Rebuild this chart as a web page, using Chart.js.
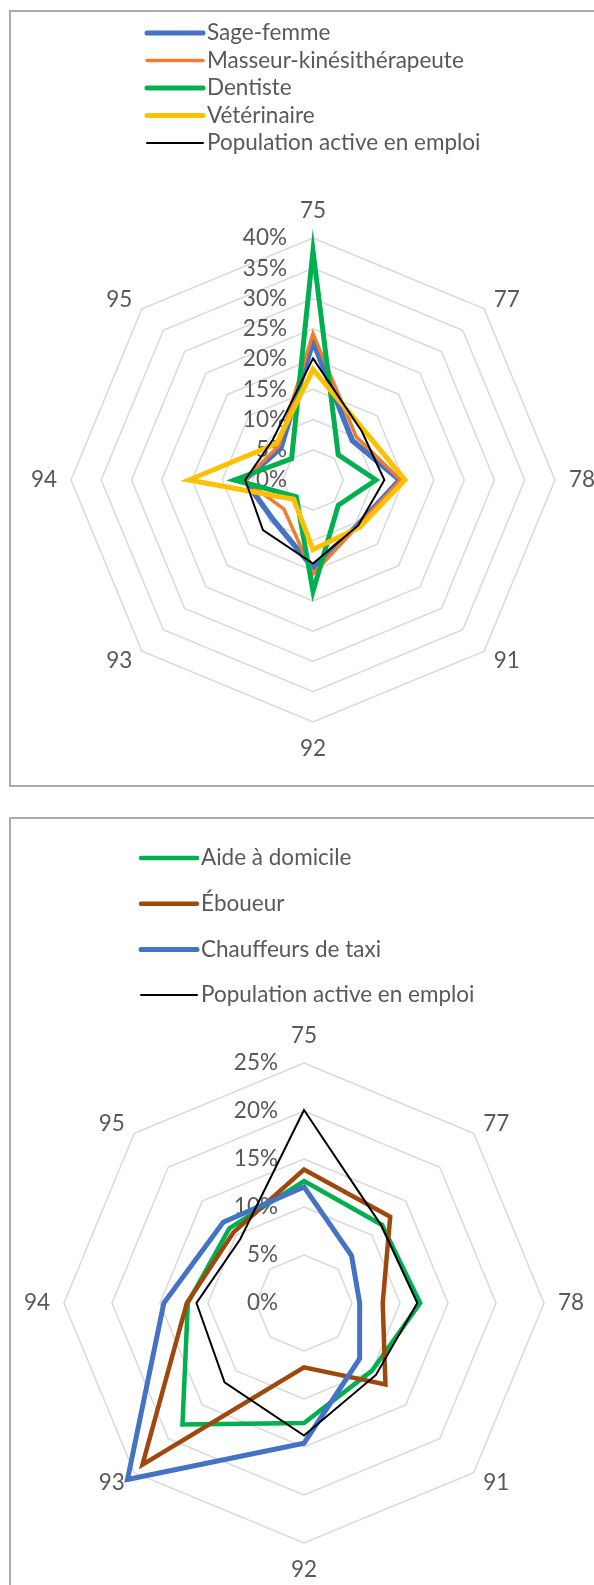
<!DOCTYPE html>
<html>
<head>
<meta charset="utf-8">
<script src="https://cdn.jsdelivr.net/npm/chart.js@4.4.1/dist/chart.umd.min.js"></script>
<style>
  html, body { margin: 0; padding: 0; background: #fff; overflow: hidden; width: 594px; height: 1585px; }
  .box { position: absolute; border: 2px solid #ababab; box-sizing: border-box; }
  canvas { position: absolute; left: 0; }
</style>
</head>
<body>
<div class="box" style="left:9px;top:10px;width:620px;height:777px"></div>
<div class="box" style="left:9px;top:817px;width:620px;height:800px"></div>
<canvas id="radarSante" width="700" height="800" style="top:0"></canvas>
<canvas id="radarServices" width="700" height="785" style="top:800px"></canvas>
<script>
// départements d'Île-de-France (axes du radar)
const departements = ['75', '77', '78', '91', '92', '93', '94', '95'];

// graphique du haut (% des effectifs par département)
const sageFemme   = [22.9, 9.2, 14.3, 10.5, 14.5, 9.3, 11.3, 7.5];
const masseurKine = [24.2, 10.1, 14.5, 10.6, 15.5, 6.8, 11.3, 8.0];
const dentiste    = [37.9, 5.9, 10.4, 5.9, 18.4, 3.9, 13.0, 5.0];
const veterinaire = [18.3, 11.8, 15.2, 11.0, 11.5, 4.5, 20.5, 8.5];

// graphique du bas
const aideDomicile = [12.7, 11.5, 12.1, 10.0, 12.5, 17.9, 12.1, 11.0];
const eboueur      = [13.9, 12.7, 8.2, 12.0, 6.7, 23.8, 12.2, 10.4];
const taxi         = [12.1, 7.0, 5.8, 8.2, 14.6, 26.0, 14.6, 11.9];

// référence commune
const populationActive = [20.1, 11.4, 11.8, 10.6, 13.8, 11.7, 11.2, 9.4];

// graduations
const ticksHaut = { max: 40, step: 5 };
const ticksBas  = { max: 25, step: 5 };

const FONT = 'Lato';
const TAILLE = 22.5;
const GRIS = '#595959';
Chart.defaults.font.family = FONT;

// ticks à gauche de l'axe, étiquettes des axes et légende en liste, façon Excel
const excelLook = {
  id: 'excelLook',
  beforeDatasetsDraw(chart) {
    const r = chart.scales.r;
    const ctx = chart.ctx;
    ctx.save();
    ctx.font = TAILLE + 'px ' + FONT;
    ctx.fillStyle = GRIS;
    ctx.textBaseline = 'middle';

    ctx.textAlign = 'right';
    r.ticks.forEach(t => {
      const d = r.getDistanceFromCenterForValue(t.value);
      ctx.fillText(t.value + '%', r.xCenter - 26, r.yCenter - d);
    });

    chart.data.labels.forEach((lab, i) => {
      const deg = Math.round(r.getIndexAngle(i) * 180 / Math.PI) % 360;
      let dist, align;
      if (deg === 0 || deg === 180) {
        dist = r.drawingArea + 27; align = 'center';
      } else if (deg === 90 || deg === 270) {
        dist = r.drawingArea + 14; align = deg === 90 ? 'left' : 'right';
      } else {
        dist = r.drawingArea + 13.5; align = deg < 180 ? 'left' : 'right';
      }
      const p = r.getPointPosition(i, dist);
      ctx.textAlign = align;
      ctx.fillText(lab, p.x, p.y);
    });
    ctx.restore();
  },
  afterDraw(chart, args, opts) {
    const ctx = chart.ctx;
    ctx.save();
    ctx.font = TAILLE + 'px ' + FONT;
    ctx.textBaseline = 'middle';
    ctx.textAlign = 'left';
    chart.data.datasets.forEach((ds, i) => {
      const y = opts.top + i * opts.step;
      ctx.strokeStyle = ds.borderColor;
      ctx.lineWidth = Math.min(ds.borderWidth, 5);
      ctx.lineCap = 'round';
      ctx.beginPath();
      ctx.moveTo(opts.x1, y);
      ctx.lineTo(opts.x2, y);
      ctx.stroke();
      ctx.fillStyle = GRIS;
      ctx.fillText(ds.label, opts.x2 + 4, y);
    });
    ctx.restore();
  }
};

function serie(label, data, color, width, order) {
  return {
    label: label,
    data: data,
    borderColor: color,
    backgroundColor: color,
    borderWidth: width,
    pointRadius: 0,
    pointHoverRadius: 0,
    fill: false,
    clip: false,
    order: order
  };
}

function radarConfig(datasets, ticks, padding, legend) {
  return {
    type: 'radar',
    data: { labels: departements, datasets: datasets },
    options: {
      responsive: false,
      animation: false,
      devicePixelRatio: 1,
      layout: { padding: padding },
      plugins: {
        legend: { display: false },
        tooltip: { enabled: false },
        excelLook: legend
      },
      scales: {
        r: {
          min: 0,
          max: ticks.max,
          ticks: { stepSize: ticks.step, display: false },
          grid: { color: '#d9d9d9', lineWidth: 1.5 },
          angleLines: { display: false },
          pointLabels: { display: false }
        }
      }
    },
    plugins: [excelLook]
  };
}

new Chart(document.getElementById('radarSante'), radarConfig([
  serie('Sage-femme', sageFemme, '#4472C4', 5.5, 5),
  serie('Masseur-kinésithérapeute', masseurKine, '#ED7D31', 3.5, 4),
  serie('Dentiste', dentiste, '#00B050', 5, 3),
  serie('Vétérinaire', veterinaire, '#FFC000', 5, 2),
  serie('Population active en emploi', populationActive, '#000000', 2, 1)
], ticksHaut,
  { top: 238, bottom: 78, left: 13, right: 87 },
  { x1: 147, x2: 203, top: 33, step: 27.5 }
));

new Chart(document.getElementById('radarServices'), radarConfig([
  serie('Aide à domicile', aideDomicile, '#00B050', 4.5, 4),
  serie('Éboueur', eboueur, '#9E480E', 4.5, 3),
  serie('Chauffeurs de taxi', taxi, '#4472C4', 5, 2),
  serie('Population active en emploi', populationActive, '#000000', 2, 1)
], ticksBas,
  { top: 263, bottom: 42, left: 4, right: 96 },
  { x1: 141, x2: 197, top: 58, step: 45.7 }
));
</script>
</body>
</html>
